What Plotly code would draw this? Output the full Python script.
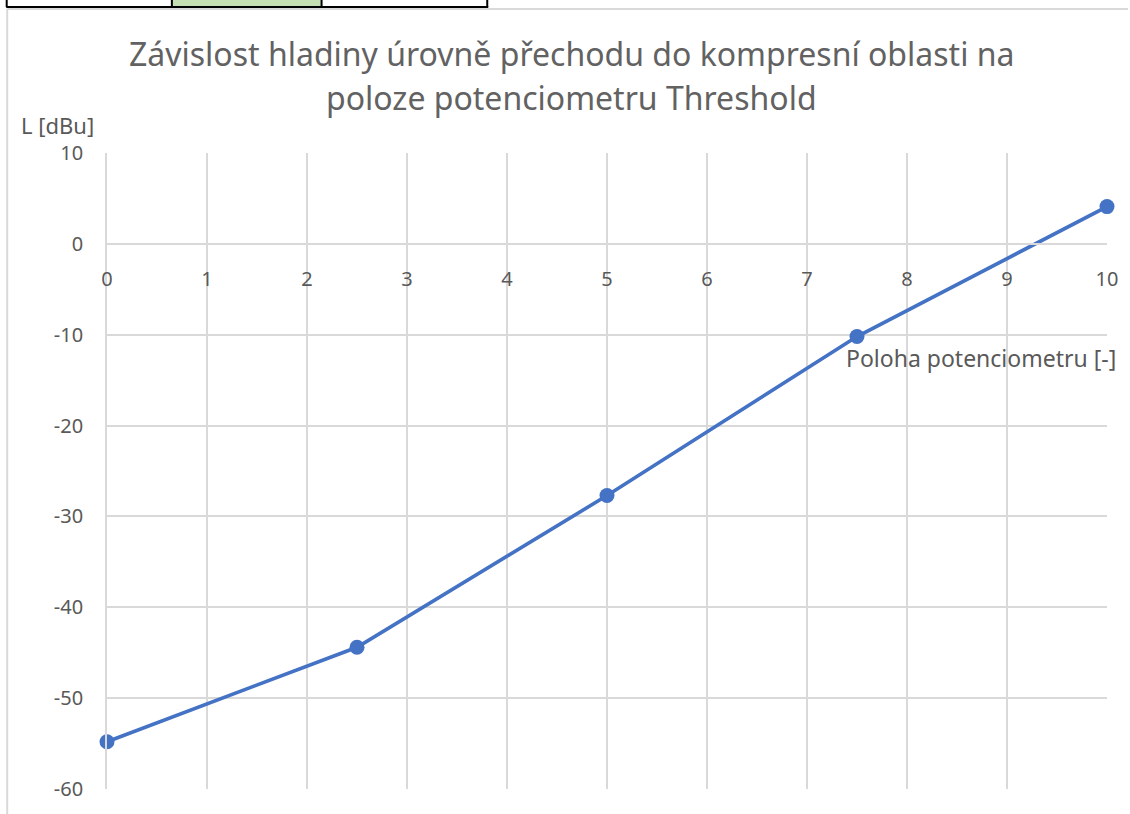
import plotly.graph_objects as go

# Threshold potentiometer position vs. compression onset level
poloha = [0, 2.5, 5, 7.5, 10]
uroven = [-54.8, -44.4, -27.7, -10.2, 4.1]

x_ticks = list(range(0, 11))
y_ticks = list(range(-60, 11, 10))

title_lines = [
    "Závislost hladiny úrovně přechodu do kompresní oblasti na",
    "poloze potenciometru Threshold",
]

W, H = 1130, 814
L, R, T, B = 107, 21, 153, 25
FONT = "Noto Sans"
GREY_TXT = "#595959"
GRID = "#d9d9d9"
CLEAR = "rgba(0,0,0,0)"


def px(p):
    return (p - L) / (W - L - R)


def py(q):
    return (H - B - q) / (H - T - B)


fig = go.Figure()
fig.add_trace(go.Scatter(
    x=poloha, y=uroven, mode="lines+markers",
    line=dict(color="#4472C4", width=3.6),
    marker=dict(color="#4472C4", size=15),
    showlegend=False, cliponaxis=False,
))

shapes = [
    # chart area border (left and top)
    dict(type="line", xref="paper", yref="paper", x0=px(7), x1=px(7), y0=py(9), y1=py(H),
         line=dict(color="#d9d9d9", width=2)),
    dict(type="line", xref="paper", yref="paper", x0=px(7), x1=px(W), y0=py(9), y1=py(9),
         line=dict(color="#d9d9d9", width=2)),
    # worksheet cells above the chart
    dict(type="rect", xref="paper", yref="paper", x0=px(172), x1=px(322), y0=py(7), y1=py(-5),
         fillcolor="#c6e0b4", line=dict(width=0)),
    dict(type="line", xref="paper", yref="paper", x0=px(6), x1=px(489), y0=py(7), y1=py(7),
         line=dict(color="black", width=2)),
]
for xc in [6.5, 172, 322, 488]:
    shapes.append(dict(type="line", xref="paper", yref="paper", x0=px(xc), x1=px(xc),
                       y0=py(7), y1=py(-5), line=dict(color="black", width=2)))

annotations = [
    dict(text="L [dBu]", xref="paper", yref="paper", x=px(19), y=py(125),
         xanchor="left", yanchor="middle", showarrow=False,
         font=dict(size=22, color=GREY_TXT, family=FONT)),
    dict(text="Poloha potenciometru [-]", xref="paper", yref="paper", x=px(1120), y=py(358),
         xanchor="right", yanchor="middle", showarrow=False,
         font=dict(size=23, color=GREY_TXT, family=FONT)),
]
for line_text, yc in zip(title_lines, [53, 98]):
    annotations.append(dict(
        text=line_text, xref="paper", yref="paper", x=px(572), y=py(yc),
        xanchor="center", yanchor="middle", showarrow=False,
        font=dict(size=32, color="#626262", family=FONT),
    ))

fig.update_layout(
    width=W, height=H,
    margin=dict(l=L, r=R, t=T, b=B),
    paper_bgcolor="white", plot_bgcolor="white",
    font=dict(family=FONT, color=GREY_TXT),
    xaxis=dict(
        range=[0, 10], tickvals=x_ticks, ticktext=[str(v) for v in x_ticks],
        showgrid=True, gridcolor=GRID, gridwidth=1.8,
        zeroline=False, showline=True, linecolor=GRID, linewidth=1.8,
        anchor="free", position=60 / 70, ticks="outside", ticklen=17, tickcolor=CLEAR,
        tickfont=dict(size=20, color=GREY_TXT), fixedrange=True,
    ),
    yaxis=dict(
        range=[-60, 10], tickvals=y_ticks, ticktext=[str(v) for v in y_ticks],
        showgrid=True, gridcolor=GRID, gridwidth=1.8,
        zeroline=False, showline=True, linecolor=GRID, linewidth=1.8,
        ticks="outside", ticklen=18, tickcolor=CLEAR,
        tickfont=dict(size=20, color=GREY_TXT), fixedrange=True,
    ),
    shapes=shapes,
    annotations=annotations,
)

fig.write_html("out.html")
